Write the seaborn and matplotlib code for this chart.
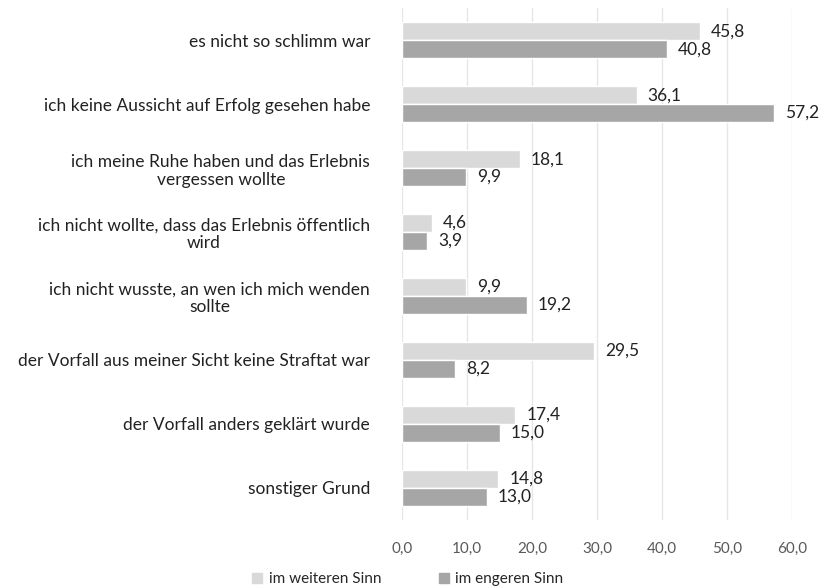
import pandas as pd
import matplotlib.pyplot as plt
import seaborn as sns

categories = [
    "es nicht so schlimm war",
    "ich keine Aussicht auf Erfolg gesehen habe",
    "ich meine Ruhe haben und das Erlebnis\nvergessen wollte",
    "ich nicht wollte, dass das Erlebnis öffentlich\nwird",
    "ich nicht wusste, an wen ich mich wenden\nsollte",
    "der Vorfall aus meiner Sicht keine Straftat war",
    "der Vorfall anders geklärt wurde",
    "sonstiger Grund",
]
weiter = [45.8, 36.1, 18.1, 4.6, 9.9, 29.5, 17.4, 14.8]
enger = [40.8, 57.2, 9.9, 3.9, 19.2, 8.2, 15.0, 13.0]
series = ["im weiteren Sinn", "im engeren Sinn"]
ticks = [0, 10, 20, 30, 40, 50, 60]

df = pd.DataFrame({"Grund": categories, series[0]: weiter, series[1]: enger})
df_melted = df.melt(id_vars=["Grund"], var_name="Gruppe", value_name="Wert")

sns.set_theme(style="white")
plt.rcParams["font.family"] = ["Lato", "DejaVu Sans"]

fig = plt.figure(figsize=(8.24, 5.88), dpi=100)
ax = fig.add_axes([0.488, 0.116, 0.473, 0.870])
sns.barplot(data=df_melted, x="Wert", y="Grund", hue="Gruppe", orient="h",
            palette=["#d9d9d9", "#a6a6a6"], width=0.56, gap=0, ax=ax,
            legend=False, saturation=1)

for cont in ax.containers:
    ax.bar_label(cont, labels=[f"{v:.1f}".replace(".", ",") for v in cont.datavalues],
                 padding=8, fontsize=12.5, color="#222222")

ax.set_xlim(0, 60)
ax.set_xticks(ticks)
ax.set_xticklabels([f"{t:.1f}".replace(".", ",") for t in ticks], fontsize=11, color="#595959")
ax.tick_params(axis="x", length=0, pad=16)
ax.tick_params(axis="y", length=0, pad=23)
for lab in ax.get_yticklabels():
    lab.set_fontsize(12.5)
    lab.set_color("#222222")
    lab.set_multialignment("center")
    lab.set_linespacing(1.15)
ax.set_xlabel("")
ax.set_ylabel("")
ax.xaxis.grid(True, color="#e6e6e6", linewidth=1)
ax.set_axisbelow(True)
for s in ax.spines.values():
    s.set_visible(False)

handles = [plt.Rectangle((0, 0), 1, 1, color=c) for c in ["#d9d9d9", "#a6a6a6"]]
fig.legend(handles, series, loc="lower center", bbox_to_anchor=(0.495, -0.02), ncol=2,
           frameon=False, fontsize=11, handlelength=0.65, handleheight=0.65,
           handletextpad=0.4, columnspacing=3.8)

fig.savefig("out.png", dpi=100)
